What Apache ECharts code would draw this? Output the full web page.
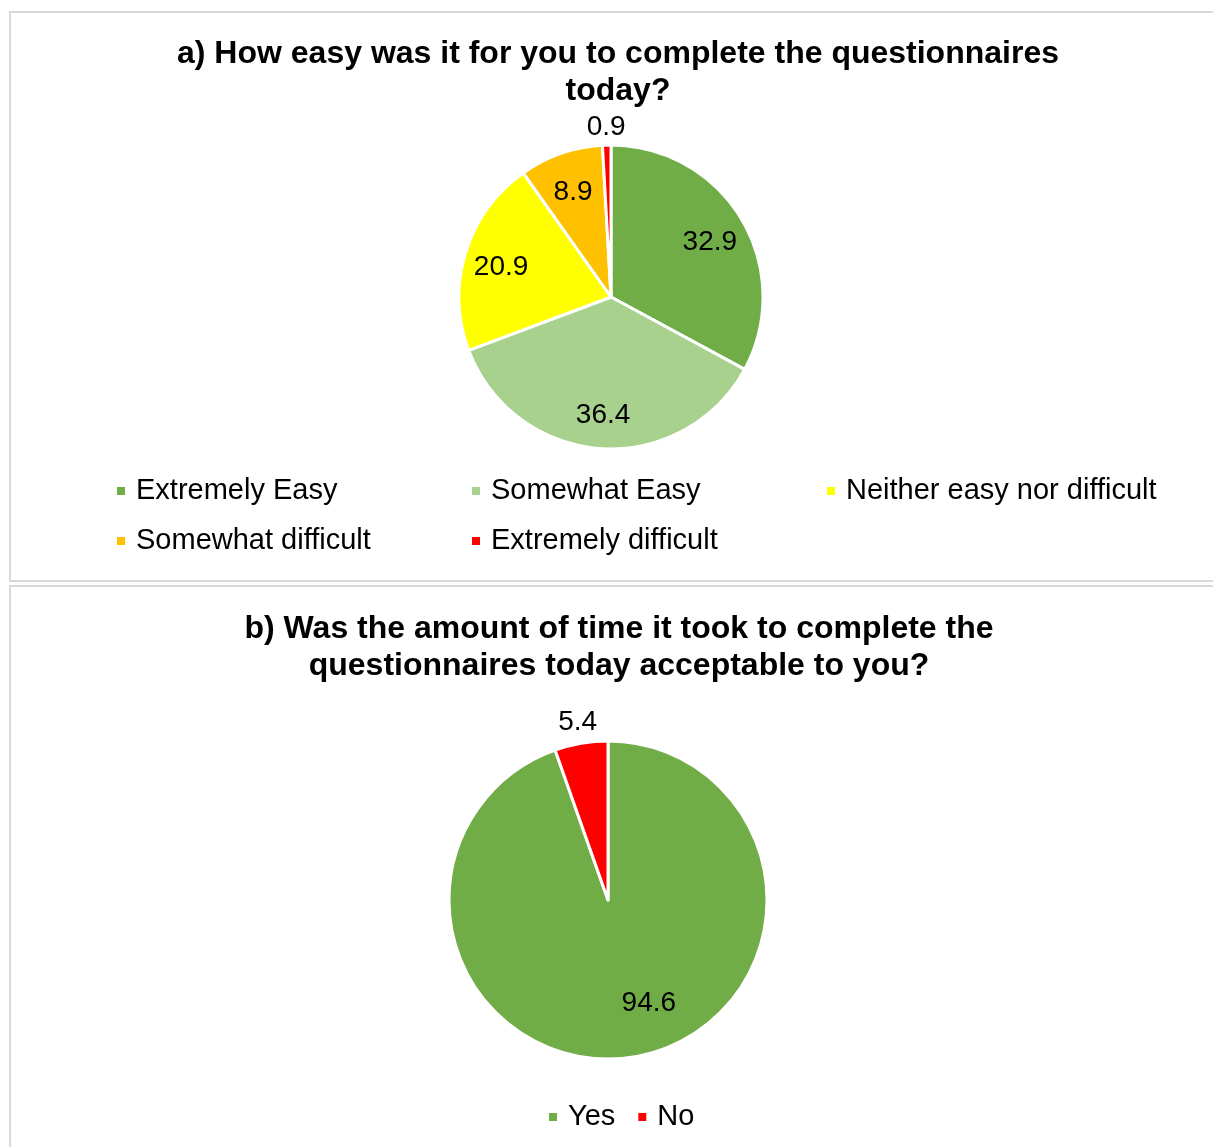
<!DOCTYPE html>
<html>
<head>
<meta charset="utf-8">
<script src="https://cdn.jsdelivr.net/npm/echarts@6/dist/echarts.min.js"></script>
<style>
  html, body { margin: 0; padding: 0; background: #fff; }
  #main { width: 1213px; height: 1147px; }
</style>
</head>
<body>
<div id="main"></div>
<script>
// chart a: ease of completing questionnaires
var easeNames = ['Extremely Easy', 'Somewhat Easy', 'Neither easy nor difficult', 'Somewhat difficult', 'Extremely difficult'];
var easeValues = [32.9, 36.4, 20.9, 8.9, 0.9];
var easeColors = ['#70AD47', '#A9D18E', '#FFFF00', '#FFC000', '#FF0000'];
// chart b: time acceptable
var timeNames = ['Yes', 'No'];
var timeValues = [94.6, 5.4];
var timeColors = ['#70AD47', '#FF0000'];

var font = '"Liberation Sans", Arial, sans-serif';
var smallCut = 6; // slices below this get their label outside

function $each(list, fn){ for (var i = 0; i < list.length; i++) fn(i, list[i]); }
function mainData(names, values, colors){
	var arr = [];
	$each(names, function(i, n){
		arr.push({ name: n, value: values[i], itemStyle: { color: colors[i] } });
	});
	return arr;
}
function labelData(names, values, outside){
	var arr = [];
	$each(names, function(i, n){
		var small = values[i] < smallCut;
		arr.push({ name: n, value: values[i], label: { show: outside ? small : !small } });
	});
	return arr;
}

function labelRing(center, radius, data, extra){
	var s = {
		type: 'pie',
		center: center,
		radius: radius,
		startAngle: 90,
		clockwise: true,
		silent: true,
		emphasis: { disabled: true },
		itemStyle: { color: 'transparent', borderWidth: 0 },
		label: { position: 'inside', formatter: '{c}', color: '#000', fontSize: 28, fontFamily: font },
		labelLine: { show: false },
		data: data
	};
	if (extra) for (var k in extra) s[k] = extra[k];
	return s;
}

var chart = echarts.init(document.getElementById('main'));
var option = {
	animation: false,
	graphic: [
		{ type: 'rect', shape: { x: 10, y: 12, width: 1215, height: 569 }, style: { fill: 'none', stroke: '#d9d9d9', lineWidth: 2 }, silent: true },
		{ type: 'rect', shape: { x: 10, y: 586, width: 1215, height: 600 }, style: { fill: 'none', stroke: '#d9d9d9', lineWidth: 2 }, silent: true }
	],
	title: [
		{ text: 'a) How easy was it for you to complete the questionnaires\ntoday?', left: 613, top: 31, textAlign: 'center',
		  textStyle: { fontSize: 32, fontWeight: 'bold', fontFamily: font, color: '#000', lineHeight: 37 } },
		{ text: 'b) Was the amount of time it took to complete the\nquestionnaires today acceptable to you?', left: 614, top: 606, textAlign: 'center',
		  textStyle: { fontSize: 32, fontWeight: 'bold', fontFamily: font, color: '#000', lineHeight: 37 } }
	],
	legend: [
		{ data: easeNames, left: 115, top: 466, width: 1090, orient: 'horizontal', itemGap: 0, padding: 0,
		  itemWidth: 10, itemHeight: 10, icon: 'rect', selectedMode: false,
		  textStyle: { fontSize: 29, fontFamily: font, color: '#000', width: 334, lineHeight: 50, padding: [0, 0, 0, 5] } },
		{ data: timeNames, left: 547, top: 1092, orient: 'horizontal', itemGap: 21, padding: 0,
		  itemWidth: 10, itemHeight: 10, icon: 'rect', selectedMode: false,
		  textStyle: { fontSize: 29, fontFamily: font, color: '#000', lineHeight: 50, padding: [0, 0, 0, 5] } }
	],
	series: [
		{
			name: 'ease', type: 'pie', center: [611, 297], radius: 152,
			startAngle: 90, clockwise: true,
			itemStyle: { borderColor: '#fff', borderWidth: 3 },
			label: { show: false }, labelLine: { show: false },
			emphasis: { scale: false },
			data: mainData(easeNames, easeValues, easeColors)
		},
		{
			name: 'time', type: 'pie', center: [608, 900], radius: 159,
			startAngle: 90, clockwise: true,
			itemStyle: { borderColor: '#fff', borderWidth: 3 },
			label: { show: false }, labelLine: { show: false },
			emphasis: { scale: false },
			data: mainData(timeNames, timeValues, timeColors)
		},
		labelRing([611, 297], [72, 152], labelData(easeNames, easeValues, false), {
			labelLayout: function(p){ return { dy: 4 }; }
		}),
		labelRing([611, 297], [152, 182], labelData(easeNames, easeValues, true)),
		labelRing([608, 900], [58, 159], labelData(timeNames, timeValues, false), {
			labelLayout: function(p){ return { dx: 22, dy: -7 }; }
		}),
		labelRing([608, 900], [159, 195], labelData(timeNames, timeValues, true))
	]
};
chart.setOption(option);
</script>
</body>
</html>
